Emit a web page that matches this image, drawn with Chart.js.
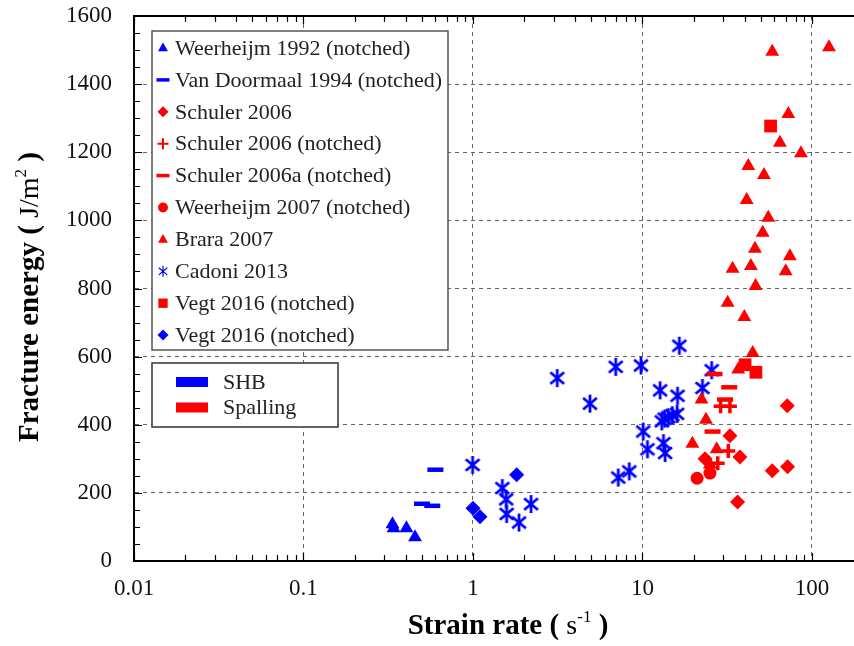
<!DOCTYPE html>
<html>
<head>
<meta charset="utf-8">
<script src="https://cdn.jsdelivr.net/npm/chart.js@4.4.0/dist/chart.umd.min.js"></script>
<style>
  html, body { margin: 0; padding: 0; background: #fff; }
  #wrap { width: 854px; height: 646px; position: relative; }
</style>
</head>
<body>
<div id="wrap"><canvas id="chart"></canvas></div>
<script>
// --- Data (strain rate in 1/s, fracture energy in J/m2) ---

const xTicks = [0.01, 0.1, 1, 10, 100];
const xTickLabels = ['0.01', '0.1', '1', '10', '100'];

const weer92X = [0.335, 0.34, 0.405, 0.455];
const weer92Y = [108, 96, 96, 70];

const vanDoorX = [0.6, 0.5, 0.575];
const vanDoorY = [268, 168, 162];

const schuler06X = [71.5, 32.8, 37.6, 23.4, 58.3, 71.8, 36.4];
const schuler06Y = [456, 368, 305, 300, 265, 277, 173];

const schuler06nX = [32.1, 27.8, 28.9, 32.8];
const schuler06nY = [323, 287, 454, 454];

const schuler06aX = [32.5, 30.7, 25.9, 26.6];
const schuler06aY = [510, 474, 380, 549];

const weer07X = [21.0, 25.0];
const weer07Y = [243, 258];

const braraX = [58.3, 126, 72.5, 64.7, 86.1, 42.1, 52.1, 41.2, 55.2, 51.2, 46.1, 74.1, 34.0,
  43.6, 70.0, 46.5, 31.8, 39.9, 44.7, 36.7, 22.3, 23.7, 19.7, 27.4, 25.0];
const braraY = [1495, 1508, 1312, 1228, 1197, 1160, 1133, 1060, 1008, 964, 917, 895, 858,
  866, 851, 807, 758, 716, 611, 562, 474, 415, 344, 328, 283];

const cadoniX = [0.995, 1.49, 1.57, 1.58, 1.87, 2.20, 3.14, 4.90, 6.95, 9.8, 16.5, 25.6, 12.7,
  16.1, 22.6, 13.0, 13.5, 14.2, 15.0, 16.0, 10.1, 10.7, 13.3, 13.6, 7.2, 8.36];
const cadoniY = [282, 214, 181, 138, 113, 167, 537, 462, 570, 574, 632, 560, 501,
  485, 508, 410, 418, 422, 428, 432, 380, 328, 346, 317, 245, 263];

const vegtRedX = [40.3, 46.7, 57.0];
const vegtRedY = [576, 554, 1277];

const vegtBlueX = [1.0, 1.10, 1.81];
const vegtBlueY = [155, 130, 253];

const groupLabels = ['SHB', 'Spalling'];

const BLUE = '#0000ff';
const RED = '#ff0000';
const FONT = "'Liberation Serif', 'Times New Roman', serif";

function pts(xs, ys) {
  return xs.map((x, i) => ({ x: x, y: ys[i] }));
}

// six-armed asterisk used for Cadoni 2013
function makeAsterisk(size, lw, color) {
  const c = document.createElement('canvas');
  c.width = size; c.height = size;
  const g = c.getContext('2d');
  const m = size / 2, r = size / 2 - 1;
  g.strokeStyle = color;
  g.lineWidth = lw;
  [90, 40, 140].forEach(a => {
    const t = a * Math.PI / 180;
    g.beginPath();
    g.moveTo(m - Math.cos(t) * r, m - Math.sin(t) * r);
    g.lineTo(m + Math.cos(t) * r, m + Math.sin(t) * r);
    g.stroke();
  });
  return c;
}
const asterisk = makeAsterisk(20, 2.8, BLUE);

const datasets = [
  { label: 'Weerheijm 1992 (notched)', data: pts(weer92X, weer92Y), pointStyle: 'triangle',
    pointRadius: 8, backgroundColor: BLUE, borderColor: BLUE, borderWidth: 0 },
  { label: 'Van Doormaal 1994 (notched)', data: pts(vanDoorX, vanDoorY), pointStyle: 'line',
    pointRadius: 8, backgroundColor: BLUE, borderColor: BLUE, borderWidth: 4.5 },
  { label: 'Schuler 2006', data: pts(schuler06X, schuler06Y), pointStyle: 'rectRot',
    pointRadius: 7.5, backgroundColor: RED, borderColor: RED, borderWidth: 0 },
  { label: 'Schuler 2006 (notched)', data: pts(schuler06nX, schuler06nY), pointStyle: 'cross',
    pointRadius: 7, backgroundColor: RED, borderColor: RED, borderWidth: 3.5 },
  { label: 'Schuler 2006a (notched)', data: pts(schuler06aX, schuler06aY), pointStyle: 'line',
    pointRadius: 8, backgroundColor: RED, borderColor: RED, borderWidth: 4.5 },
  { label: 'Weerheijm 2007 (notched)', data: pts(weer07X, weer07Y), pointStyle: 'circle',
    pointRadius: 6.5, backgroundColor: RED, borderColor: RED, borderWidth: 0 },
  { label: 'Brara 2007', data: pts(braraX, braraY), pointStyle: 'triangle',
    pointRadius: 8, backgroundColor: RED, borderColor: RED, borderWidth: 0 },
  { label: 'Cadoni 2013', data: pts(cadoniX, cadoniY), pointStyle: asterisk,
    pointRadius: 9, backgroundColor: BLUE, borderColor: BLUE, borderWidth: 0 },
  { label: 'Vegt 2016 (notched)', data: pts(vegtRedX, vegtRedY), pointStyle: 'rect',
    pointRadius: 9, backgroundColor: RED, borderColor: RED, borderWidth: 0 },
  { label: 'Vegt 2016 (notched)', data: pts(vegtBlueX, vegtBlueY), pointStyle: 'rectRot',
    pointRadius: 7.5, backgroundColor: BLUE, borderColor: BLUE, borderWidth: 0 }
];
datasets.forEach(d => { d.showLine = false; d.pointHoverRadius = d.pointRadius; });

// --- small marker drawer for the legend ---
function drawMarker(ctx, style, x, y, r, color) {
  ctx.save();
  ctx.fillStyle = color;
  ctx.strokeStyle = color;
  ctx.beginPath();
  if (style === 'triangle') {
    ctx.moveTo(x, y - r);
    ctx.lineTo(x + r * 0.9, y + r * 0.6);
    ctx.lineTo(x - r * 0.9, y + r * 0.6);
    ctx.closePath();
    ctx.fill();
  } else if (style === 'rectRot') {
    ctx.moveTo(x, y - r); ctx.lineTo(x + r, y); ctx.lineTo(x, y + r); ctx.lineTo(x - r, y);
    ctx.closePath();
    ctx.fill();
  } else if (style === 'cross') {
    ctx.lineWidth = 2;
    ctx.moveTo(x - r, y); ctx.lineTo(x + r, y);
    ctx.moveTo(x, y - r); ctx.lineTo(x, y + r);
    ctx.stroke();
  } else if (style === 'line') {
    ctx.lineWidth = 3.5;
    ctx.moveTo(x - r - 1, y); ctx.lineTo(x + r + 1, y);
    ctx.stroke();
  } else if (style === 'circle') {
    ctx.arc(x, y, r * 0.9, 0, Math.PI * 2);
    ctx.fill();
  } else if (style === 'rect') {
    ctx.fillRect(x - r * 0.85, y - r * 0.85, r * 1.7, r * 1.7);
  } else {
    ctx.lineWidth = 1.2;
    [90, 40, 140].forEach(a => {
      const t = a * Math.PI / 180;
      ctx.moveTo(x - Math.cos(t) * r, y - Math.sin(t) * r);
      ctx.lineTo(x + Math.cos(t) * r, y + Math.sin(t) * r);
    });
    ctx.stroke();
  }
  ctx.restore();
}

// draws a run of [text, font, raise] pieces centred on (0,0)
function drawRich(ctx, parts) {
  let total = 0;
  parts.forEach(p => { ctx.font = p[1]; total += ctx.measureText(p[0]).width; });
  let cx = -total / 2;
  parts.forEach(p => {
    ctx.font = p[1];
    ctx.fillText(p[0], cx, -p[2]);
    cx += ctx.measureText(p[0]).width;
  });
}

// frame, minor ticks, axis titles and the two legend boxes
const decor = {
  id: 'decor',
  afterDraw(chart) {
    const { ctx, chartArea: a, scales: { x, y } } = chart;
    ctx.save();
    ctx.strokeStyle = '#000';
    ctx.lineWidth = 1.2;
    ctx.beginPath();
    for (let v = 0; v <= 1600; v += 50) {
      const py = Math.round(y.getPixelForValue(v)) + 0.5;
      const len = v % 200 === 0 ? 8 : 6;
      ctx.moveTo(a.left, py); ctx.lineTo(a.left + len, py);
    }
    xTicks.forEach(d => {
      for (let k = 1; k <= 9; k++) {
        const v = d * k;
        if (v > x.max) continue;
        const px = Math.round(x.getPixelForValue(v)) + 0.5;
        const len = k === 1 ? 8 : 6;
        ctx.moveTo(px, a.bottom); ctx.lineTo(px, a.bottom - len);
        ctx.moveTo(px, a.top); ctx.lineTo(px, a.top + len);
      }
    });
    ctx.stroke();
    ctx.lineWidth = 2;
    ctx.beginPath();
    ctx.moveTo(a.left, a.top); ctx.lineTo(a.right, a.top);
    ctx.stroke();

    // axis titles
    const bold = 'bold 29px ' + FONT, reg = '28px ' + FONT, sup = '17px ' + FONT;
    ctx.fillStyle = '#000';
    ctx.textAlign = 'left';
    ctx.textBaseline = 'middle';
    ctx.save();
    ctx.translate(508, 627);
    drawRich(ctx, [['Strain rate ( ', bold, 0], ['s', reg, 0], ['-1', sup, 9], [' )', bold, 0]]);
    ctx.restore();
    ctx.save();
    ctx.translate(31, 297);
    ctx.rotate(-Math.PI / 2);
    drawRich(ctx, [['Fracture energy ( ', bold, 0], ['J/m', reg, 0], ['2', sup, 9], [' )', bold, 0]]);
    ctx.restore();

    // series legend
    const bx = 152, by = 31, bw = 296, bh = 319;
    ctx.fillStyle = '#fff';
    ctx.fillRect(bx, by, bw, bh);
    ctx.strokeStyle = '#555';
    ctx.lineWidth = 1.5;
    ctx.strokeRect(bx, by, bw, bh);
    ctx.font = '22px ' + FONT;
    ctx.textBaseline = 'middle';
    ctx.textAlign = 'left';
    chart.data.datasets.forEach((ds, i) => {
      const cy = 48 + i * 31.9;
      drawMarker(ctx, ds.pointStyle, 163, cy, 5.5, ds.borderColor);
      ctx.fillStyle = '#222';
      ctx.fillText(ds.label, 175, cy + 1);
    });

    // group legend
    ctx.fillStyle = '#fff';
    ctx.fillRect(152, 363, 186, 64);
    ctx.strokeStyle = '#333';
    ctx.lineWidth = 1.5;
    ctx.strokeRect(152, 363, 186, 64);
    [BLUE, RED].forEach((c, i) => {
      const cy = 382 + i * 25.5;
      ctx.fillStyle = c;
      ctx.fillRect(176, cy - 5, 32, 10);
      ctx.fillStyle = '#222';
      ctx.fillText(groupLabels[i], 223, cy + 1);
    });
    ctx.restore();
  }
};

const axisFont = { family: FONT, size: 23 };

new Chart(document.getElementById('chart'), {
  type: 'scatter',
  data: { datasets: datasets },
  options: {
    responsive: true,
    maintainAspectRatio: false,
    animation: false,
    devicePixelRatio: 1,
    layout: { autoPadding: false, padding: { top: 16, right: 0, left: 0, bottom: 0 } },
    plugins: { legend: { display: false }, tooltip: { enabled: false } },
    scales: {
      x: {
        type: 'logarithmic',
        min: 0.01,
        max: 177,
        afterBuildTicks: s => { s.ticks = xTicks.map(v => ({ value: v })); },
        afterFit: s => { s.height = 85; s.paddingLeft = 0; s.paddingRight = 0; },
        ticks: {
          autoSkip: false, maxRotation: 0, padding: 14, color: '#111', font: axisFont,
          callback: (v, i) => xTickLabels[i]
        },
        grid: { color: '#666', lineWidth: 1, drawTicks: false },
        border: { color: '#000', width: 2, dash: [4, 4] },
        title: { display: false }
      },
      y: {
        min: 0,
        max: 1600,
        afterFit: s => { s.width = 134; s.paddingTop = 0; s.paddingBottom = 0; },
        ticks: { stepSize: 200, padding: 22, color: '#111', font: axisFont,
          callback: v => String(v) },
        grid: { color: '#666', lineWidth: 1, drawTicks: false },
        border: { color: '#000', width: 2, dash: [4, 4] },
        title: { display: false }
      }
    }
  },
  plugins: [decor]
});
</script>
</body>
</html>
